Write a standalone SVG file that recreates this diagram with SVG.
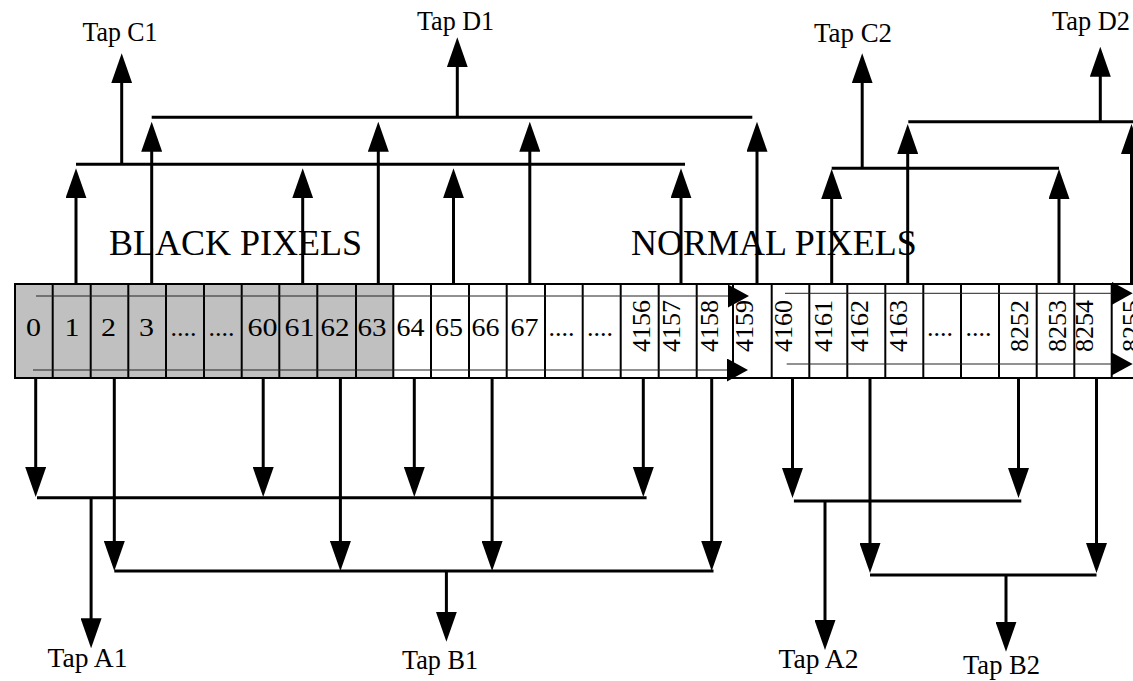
<svg xmlns="http://www.w3.org/2000/svg" width="1133" height="681" viewBox="0 0 1133 681">
<style>
.num{font-family:"Liberation Serif","Times New Roman",serif;font-size:26px;fill:#000}
.big{font-family:"Liberation Serif","Times New Roman",serif;font-size:36px;fill:#000}
.tap{font-family:"Liberation Serif","Times New Roman",serif;font-size:27px;fill:#000}
.cell{stroke:#000;stroke-width:2}
.thin{stroke:#222;stroke-width:1;fill:none}
.c{stroke:#000;stroke-width:3;fill:none}
.ca{stroke:#000;stroke-width:3;fill:none;marker-end:url(#ah)}
</style>
<defs>
<marker id="ah" markerUnits="userSpaceOnUse" markerWidth="30" markerHeight="21" viewBox="0 0 30 21" refX="2" refY="10.5" orient="auto"><path d="M0,0 L30,10.5 L0,21 z" fill="#000"/></marker>
<marker id="rh" markerUnits="userSpaceOnUse" markerWidth="21" markerHeight="23" viewBox="0 0 21 23" refX="0" refY="11.5" orient="auto"><path d="M0,0 L21,11.5 L0,23 z" fill="#000"/></marker>
</defs>
<rect width="1133" height="681" fill="#fff"/>

<g id="pixel-row">
<rect x="15" y="284" width="378.3" height="94" fill="#c0c0c0"/>
<rect x="15" y="284" width="1130" height="94" fill="none" stroke="#000" stroke-width="2"/>
<g class="cell">
<line x1="52.7" y1="284" x2="52.7" y2="378"/><line x1="90.7" y1="284" x2="90.7" y2="378"/>
<line x1="128.3" y1="284" x2="128.3" y2="378"/><line x1="166" y1="284" x2="166" y2="378"/>
<line x1="204" y1="284" x2="204" y2="378"/><line x1="241.7" y1="284" x2="241.7" y2="378"/>
<line x1="279.3" y1="284" x2="279.3" y2="378"/><line x1="317.3" y1="284" x2="317.3" y2="378"/>
<line x1="356" y1="284" x2="356" y2="378"/><line x1="393.3" y1="284" x2="393.3" y2="378"/>
<line x1="431" y1="284" x2="431" y2="378"/><line x1="469" y1="284" x2="469" y2="378"/>
<line x1="506.7" y1="284" x2="506.7" y2="378"/><line x1="545" y1="284" x2="545" y2="378"/>
<line x1="582.7" y1="284" x2="582.7" y2="378"/><line x1="620.7" y1="284" x2="620.7" y2="378"/>
<line x1="658.7" y1="284" x2="658.7" y2="378"/><line x1="696.7" y1="284" x2="696.7" y2="378"/>
<line x1="733" y1="284" x2="733" y2="378"/><line x1="771.7" y1="284" x2="771.7" y2="378"/>
<line x1="809.3" y1="284" x2="809.3" y2="378"/><line x1="847.3" y1="284" x2="847.3" y2="378"/>
<line x1="885.3" y1="284" x2="885.3" y2="378"/><line x1="923.3" y1="284" x2="923.3" y2="378"/>
<line x1="961" y1="284" x2="961" y2="378"/><line x1="999" y1="284" x2="999" y2="378"/>
<line x1="1036.7" y1="284" x2="1036.7" y2="378"/><line x1="1074.3" y1="284" x2="1074.3" y2="378"/>
<line x1="1111.7" y1="284" x2="1111.7" y2="378"/>
</g>
<line class="thin" x1="36" y1="296" x2="728" y2="296" marker-end="url(#rh)"/>
<line class="thin" x1="33" y1="370" x2="727" y2="370" marker-end="url(#rh)"/>
<line class="thin" x1="785" y1="293.3" x2="1111.7" y2="293.3" marker-end="url(#rh)"/>
<line class="thin" x1="786.7" y1="364" x2="1111.7" y2="364" marker-end="url(#rh)"/>
<g class="num" text-anchor="middle">
<text x="33.5" y="335.5" textLength="15" lengthAdjust="spacingAndGlyphs">0</text>
<text x="72" y="335.5" textLength="15" lengthAdjust="spacingAndGlyphs">1</text>
<text x="108.5" y="335.5" textLength="15" lengthAdjust="spacingAndGlyphs">2</text>
<text x="146.5" y="335.5" textLength="15" lengthAdjust="spacingAndGlyphs">3</text>
<text x="183.5" y="335.5">....</text><text x="221.5" y="335.5">....</text>
<text x="262.5" y="335.5" textLength="30" lengthAdjust="spacingAndGlyphs">60</text>
<text x="299.5" y="335.5" textLength="30" lengthAdjust="spacingAndGlyphs">61</text>
<text x="335" y="335.5" textLength="29" lengthAdjust="spacingAndGlyphs">62</text>
<text x="372" y="335.5" textLength="29" lengthAdjust="spacingAndGlyphs">63</text>
<text x="410.5" y="335.5" textLength="28" lengthAdjust="spacingAndGlyphs">64</text>
<text x="449" y="335.5" textLength="28" lengthAdjust="spacingAndGlyphs">65</text>
<text x="485.5" y="335.5" textLength="28" lengthAdjust="spacingAndGlyphs">66</text>
<text x="524.5" y="335.5" textLength="28" lengthAdjust="spacingAndGlyphs">67</text>
<text x="561.5" y="335.5">....</text><text x="600" y="335.5">....</text>
<text x="940" y="335.5">....</text><text x="978.5" y="335.5">....</text>
</g>
<g class="num">
<text transform="translate(650,352) rotate(-90)">4156</text>
<text transform="translate(680,352) rotate(-90)">4157</text>
<text transform="translate(718,352) rotate(-90)">4158</text>
<text transform="translate(753,352) rotate(-90)">4159</text>
<text transform="translate(792,352) rotate(-90)">4160</text>
<text transform="translate(832,352) rotate(-90)">4161</text>
<text transform="translate(868,352) rotate(-90)">4162</text>
<text transform="translate(907,352) rotate(-90)">4163</text>
<text transform="translate(1028,352) rotate(-90)">8252</text>
<text transform="translate(1066,352) rotate(-90)">8253</text>
<text transform="translate(1093,352) rotate(-90)">8254</text>
<text transform="translate(1140,352) rotate(-90)">8255</text>
</g>
</g>

<g id="region-labels">
<text class="big" x="109" y="255">BLACK PIXELS</text>
<text class="big" x="631" y="255">NORMAL PIXELS</text>
</g>

<g id="connectors">
<line class="ca" x1="76" y1="284" x2="76" y2="196.3"/>
<line class="ca" x1="302.7" y1="284" x2="302.7" y2="196.3"/>
<line class="ca" x1="453.5" y1="284" x2="453.5" y2="196.3"/>
<line class="ca" x1="681" y1="284" x2="681" y2="196.3"/>
<line class="c" x1="76" y1="164.3" x2="685" y2="164.3"/>
<line class="ca" x1="121.7" y1="164.3" x2="121.7" y2="81.3"/>
<line class="ca" x1="151.7" y1="284" x2="151.7" y2="149.7"/>
<line class="ca" x1="378.3" y1="284" x2="378.3" y2="149.7"/>
<line class="ca" x1="529.8" y1="284" x2="529.8" y2="149.7"/>
<line class="ca" x1="757" y1="284" x2="757" y2="149.7"/>
<line class="c" x1="151.7" y1="117.3" x2="752.3" y2="117.3"/>
<line class="ca" x1="457.3" y1="117.3" x2="457.3" y2="65.3"/>
<line class="ca" x1="831.7" y1="284" x2="831.7" y2="197"/>
<line class="ca" x1="1059" y1="284" x2="1059" y2="197"/>
<line class="c" x1="831.7" y1="168.3" x2="1059" y2="168.3"/>
<line class="ca" x1="862.2" y1="168.3" x2="862.2" y2="81.3"/>
<line class="ca" x1="907.7" y1="284" x2="907.7" y2="152"/>
<line class="ca" x1="1131.5" y1="284" x2="1131.5" y2="152"/>
<line class="c" x1="908.3" y1="121.7" x2="1133" y2="121.7"/>
<line class="ca" x1="1100.3" y1="121.7" x2="1100.3" y2="74.7"/>
<line class="ca" x1="35.7" y1="378" x2="35.7" y2="469"/>
<line class="ca" x1="263.2" y1="378" x2="263.2" y2="469"/>
<line class="ca" x1="414.3" y1="378" x2="414.3" y2="469"/>
<line class="ca" x1="643.3" y1="378" x2="643.3" y2="469"/>
<line class="c" x1="37" y1="497.7" x2="646.6" y2="497.7"/>
<line class="ca" x1="91.1" y1="497.7" x2="91.1" y2="620.3"/>
<line class="ca" x1="114.3" y1="378" x2="114.3" y2="543"/>
<line class="ca" x1="340.4" y1="378" x2="340.4" y2="543"/>
<line class="ca" x1="492.1" y1="378" x2="492.1" y2="543"/>
<line class="ca" x1="711.7" y1="378" x2="711.7" y2="543"/>
<line class="c" x1="114.3" y1="571" x2="713.5" y2="571"/>
<line class="ca" x1="446.4" y1="571" x2="446.4" y2="613.7"/>
<line class="ca" x1="792.5" y1="378" x2="792.5" y2="470"/>
<line class="ca" x1="1018.5" y1="378" x2="1018.5" y2="470"/>
<line class="c" x1="793.9" y1="501" x2="1021.3" y2="501"/>
<line class="ca" x1="825" y1="501" x2="825" y2="622"/>
<line class="ca" x1="870" y1="378" x2="870" y2="545"/>
<line class="ca" x1="1096.5" y1="378" x2="1096.5" y2="545"/>
<line class="c" x1="870" y1="575" x2="1096.5" y2="575"/>
<line class="ca" x1="1006" y1="575" x2="1006" y2="623.7"/>
</g>

<g id="tap-c1"><text class="tap" x="82.5" y="41" textLength="75" lengthAdjust="spacingAndGlyphs">Tap C1</text></g>
<g id="tap-d1"><text class="tap" x="417" y="29.5" textLength="77" lengthAdjust="spacingAndGlyphs">Tap D1</text></g>
<g id="tap-c2"><text class="tap" x="814" y="41.5" textLength="78" lengthAdjust="spacingAndGlyphs">Tap C2</text></g>
<g id="tap-d2"><text class="tap" x="1052" y="29.5" textLength="78" lengthAdjust="spacingAndGlyphs">Tap D2</text></g>
<g id="tap-a1"><text class="tap" x="47.5" y="667" textLength="80" lengthAdjust="spacingAndGlyphs">Tap A1</text></g>
<g id="tap-b1"><text class="tap" x="402" y="669" textLength="76" lengthAdjust="spacingAndGlyphs">Tap B1</text></g>
<g id="tap-a2"><text class="tap" x="778.5" y="668" textLength="80" lengthAdjust="spacingAndGlyphs">Tap A2</text></g>
<g id="tap-b2"><text class="tap" x="963" y="674" textLength="77" lengthAdjust="spacingAndGlyphs">Tap B2</text></g>
</svg>
